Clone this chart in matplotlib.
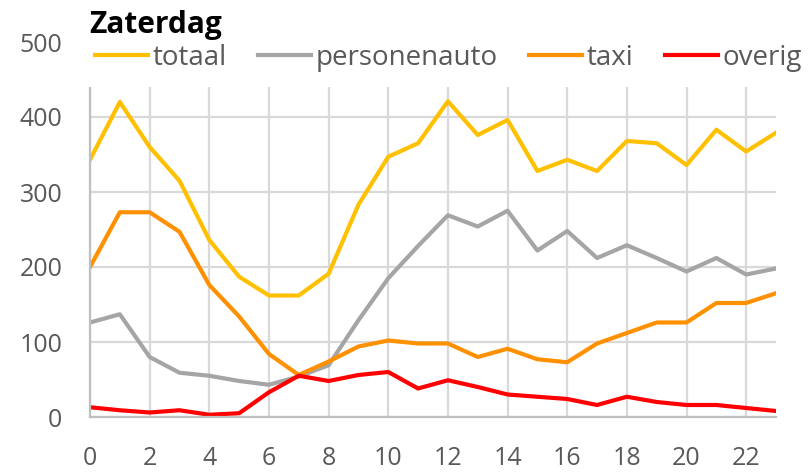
import matplotlib
matplotlib.use("Agg")
import matplotlib.pyplot as plt
from matplotlib.patches import Rectangle

# hours of the day
uren = list(range(24))

# values (Zaterdag)
totaal = [343, 420, 360, 315, 236, 187, 162, 162, 191, 283, 347, 365,
          421, 376, 396, 328, 343, 328, 368, 365, 336, 383, 354, 379]
personenauto = [126, 137, 80, 59, 55, 48, 43, 54, 69, 129, 185, 228,
                269, 254, 275, 222, 248, 212, 229, 212, 194, 212, 190, 198]
taxi = [200, 273, 273, 247, 176, 134, 84, 56, 74, 94, 102, 98,
        98, 80, 91, 77, 73, 98, 112, 126, 126, 152, 152, 165]
overig = [13, 9, 6, 9, 3, 5, 33, 55, 48, 56, 60, 38,
          49, 40, 30, 27, 24, 16, 27, 20, 16, 16, 12, 8]

series_namen = ["totaal", "personenauto", "taxi", "overig"]
kleuren = ["#FFC000", "#A5A5A5", "#FF9000", "#FF0000"]

plt.rcParams['font.family'] = ['Open Sans', 'DejaVu Sans']

fig = plt.figure(figsize=(8.09, 4.73), dpi=100)
ax = fig.add_axes([90/809, 1 - 417/473, 686/809, 375/473])

for naam, waarden, kleur in zip(series_namen, [totaal, personenauto, taxi, overig], kleuren):
    ax.plot(uren, waarden, color=kleur, linewidth=3, label=naam, zorder=2)

ax.set_xlim(0, 23)
ax.set_ylim(0, 500)
ax.set_xticks(range(0, 24, 2))
ax.set_yticks(range(0, 501, 100))
ax.grid(True, color="#d9d9d9", linewidth=1.6)
ax.set_axisbelow(True)
ax.tick_params(length=0, labelsize=18, colors="#595959")
ax.tick_params(axis='y', pad=20)
ax.tick_params(axis='x', pad=21)
for s in ["top", "right"]:
    ax.spines[s].set_visible(False)
ax.spines["left"].set_color("#bfbfbf")
ax.spines["bottom"].set_color("#bfbfbf")
ax.spines["left"].set_linewidth(1.6)
ax.spines["bottom"].set_linewidth(1.6)

# white band behind the legend, hides the top of the grid
ax.add_patch(Rectangle((-0.1, 440), 25, 80, facecolor="white", edgecolor="none",
                       zorder=3, clip_on=False))

leg = fig.legend(loc="center left", bbox_to_anchor=(95/809, 1 - 58/473), ncol=4, frameon=False,
                 fontsize=20, handlelength=1.9, handletextpad=0.18, columnspacing=1.12,
                 borderaxespad=0, borderpad=0)
for t in leg.get_texts():
    t.set_color("#595959")

fig.text(89/809, 1 - 33/473, "Zaterdag", fontsize=21.5, fontweight="bold", va="baseline", ha="left")

fig.savefig("out.png", dpi=100)
